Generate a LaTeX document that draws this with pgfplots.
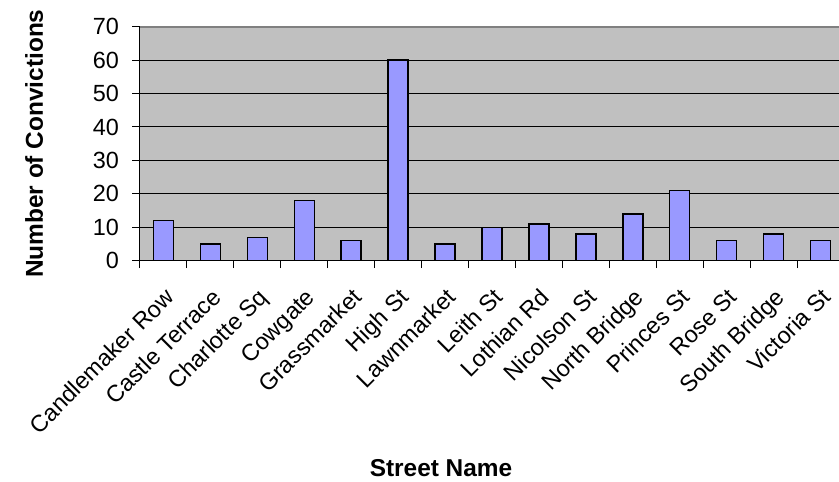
\documentclass[border=0pt]{standalone}
\usepackage{fontspec}
\setmainfont{Liberation Sans}
\usepackage{pgfplots}
\pgfplotsset{compat=1.18}
\definecolor{plotbg}{HTML}{C0C0C0}
\definecolor{barfill}{HTML}{9999FF}
\definecolor{framegray}{HTML}{808080}
\begin{document}
\begin{tikzpicture}
\begin{axis}[
    scale only axis,
    width=704bp, height=234bp,
    ybar, bar width=20bp,
    xmin=-0.5, xmax=14.5,
    ymin=0, ymax=70,
    xtick={-0.5,0.5,...,14.5},
    x tick label as interval,
    xticklabels={Candlemaker Row, Castle Terrace, Charlotte Sq, Cowgate, Grassmarket, High St, Lawnmarket, Leith St, Lothian Rd, Nicolson St, North Bridge, Princes St, Rose St, South Bridge, Victoria St},
    ytick={0,10,...,60},
    extra y ticks={70},
    extra y tick style={ymajorgrids=true, grid style={draw=framegray, line width=2bp}},
    tick align=outside,
    major tick length=7.5bp,
    tick style={draw=black, line width=1bp},
    axis x line*=bottom, axis y line*=left,
    axis line style={black, line width=1bp},
    ymajorgrids, grid style={black, line width=1bp},
    axis background/.style={fill=plotbg},
    tick label style={font=\fontsize{23.5}{28}\selectfont},
    /pgf/number format/assume math mode=true,
    y tick label style={xshift=-10bp},
    x tick label style={xshift=12bp, yshift=-30.5bp, rotate=45, anchor=base east, inner sep=0pt},
    xlabel={\bfseries Street Name},
    ylabel={\bfseries Number of Convictions},
    label style={font=\fontsize{24.5}{29}\selectfont},
    xlabel style={at={(axis description cs:0.4276,-0.923)}, anchor=base},
    ylabel style={at={(axis description cs:-0.1378,0.5)}, anchor=base},
]
\addplot[fill=barfill, draw=black, line width=1.5bp] coordinates {
    (0,12) (1,5) (2,7) (3,18) (4,6) (5,60) (6,5) (7,10)
    (8,11) (9,8) (10,14) (11,21) (12,6) (13,8) (14,6)
};
\end{axis}
\pgfresetboundingbox
\path[use as bounding box] ([xshift=-140bp,yshift=-221.3bp]current axis.south west) rectangle ([xshift=-5bp,yshift=26.7bp]current axis.north east);
\end{tikzpicture}
\end{document}
